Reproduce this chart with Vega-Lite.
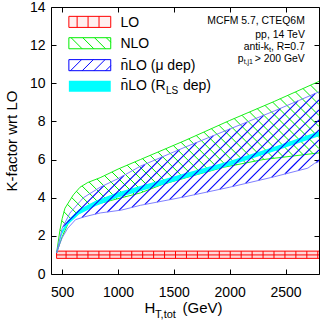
{
"$schema":"https://vega.github.io/schema/vega-lite/v6.json",
"width":268,"height":267,
"autosize":{"type":"none"},
"padding":{"left":51,"top":7,"right":1,"bottom":50},
"background":"white",
"config":{"font":"Liberation Sans","view":{"stroke":"#000","strokeWidth":1},
 "axis":{"grid":false,"domain":false,"labelFont":"Liberation Sans","labelFontSize":14,"labelColor":"#000","tickColor":"#000","tickSize":-5,"tickWidth":1,"titleFont":"Liberation Sans","titleFontSize":15,"titleFontWeight":"normal","titleColor":"#000","labelFlush":false,"labelOverlap":false}},
"datasets":{
 "lo":[{"x":450,"y":0.82,"y2":1.2},{"x":2800,"y":0.82,"y2":1.2}],
 "loLines":[{"s":"top","x":450,"y":1.2},{"s":"top","x":2800,"y":1.2},{"s":"mid","x":450,"y":1.0},{"s":"mid","x":2800,"y":1.0},{"s":"bot","x":450,"y":0.82},{"s":"bot","x":2800,"y":0.82}],
 "loTicks":[{"x":450,"y":0.82,"y2":1.2},{"x":535,"y":0.82,"y2":1.2},{"x":633,"y":0.82,"y2":1.2},{"x":731,"y":0.82,"y2":1.2},{"x":829,"y":0.82,"y2":1.2},{"x":927,"y":0.82,"y2":1.2},{"x":1025,"y":0.82,"y2":1.2},{"x":1123,"y":0.82,"y2":1.2},{"x":1221,"y":0.82,"y2":1.2},{"x":1319,"y":0.82,"y2":1.2},{"x":1417,"y":0.82,"y2":1.2},{"x":1515,"y":0.82,"y2":1.2},{"x":1613,"y":0.82,"y2":1.2},{"x":1711,"y":0.82,"y2":1.2},{"x":1809,"y":0.82,"y2":1.2},{"x":1907,"y":0.82,"y2":1.2},{"x":2005,"y":0.82,"y2":1.2},{"x":2103,"y":0.82,"y2":1.2},{"x":2201,"y":0.82,"y2":1.2},{"x":2299,"y":0.82,"y2":1.2},{"x":2397,"y":0.82,"y2":1.2},{"x":2495,"y":0.82,"y2":1.2},{"x":2593,"y":0.82,"y2":1.2},{"x":2691,"y":0.82,"y2":1.2},{"x":2789,"y":0.82,"y2":1.2}],
 "curves":[
  {"s":"nh","x":450,"y":1.1},{"s":"nh","x":480,"y":2.3},{"s":"nh","x":500,"y":2.9},{"s":"nh","x":525,"y":3.45},{"s":"nh","x":600,"y":4.15},{"s":"nh","x":660,"y":4.55},{"s":"nh","x":730,"y":4.8},{"s":"nh","x":840,"y":5.05},{"s":"nh","x":1000,"y":5.5},{"s":"nh","x":1200,"y":6.0},{"s":"nh","x":1600,"y":7.0},{"s":"nh","x":2000,"y":8.05},{"s":"nh","x":2400,"y":9.05},{"s":"nh","x":2800,"y":10.1},
  {"s":"nl","x":450,"y":1.1},{"s":"nl","x":500,"y":1.95},{"s":"nl","x":550,"y":2.6},{"s":"nl","x":673,"y":3.4},{"s":"nl","x":837,"y":3.7},{"s":"nl","x":1000,"y":3.95},{"s":"nl","x":1200,"y":4.25},{"s":"nl","x":1400,"y":4.7},{"s":"nl","x":1700,"y":5.2},{"s":"nl","x":1950,"y":5.6},{"s":"nl","x":2300,"y":6.0},{"s":"nl","x":2800,"y":6.35},
  {"s":"mh","x":450,"y":1.1},{"s":"mh","x":500,"y":2.4},{"s":"mh","x":570,"y":3.2},{"s":"mh","x":690,"y":4.0},{"s":"mh","x":840,"y":4.55},{"s":"mh","x":1000,"y":5.0},{"s":"mh","x":1200,"y":5.65},{"s":"mh","x":1600,"y":6.65},{"s":"mh","x":2000,"y":7.6},{"s":"mh","x":2400,"y":8.55},{"s":"mh","x":2800,"y":9.55},
  {"s":"ml","x":450,"y":1.1},{"s":"ml","x":480,"y":1.6},{"s":"ml","x":500,"y":1.9},{"s":"ml","x":550,"y":2.4},{"s":"ml","x":620,"y":2.85},{"s":"ml","x":700,"y":3.0},{"s":"ml","x":840,"y":3.2},{"s":"ml","x":1030,"y":3.35},{"s":"ml","x":1200,"y":3.6},{"s":"ml","x":1600,"y":4.05},{"s":"ml","x":2000,"y":4.55},{"s":"ml","x":2400,"y":5.1},{"s":"ml","x":2700,"y":5.55},{"s":"ml","x":2760,"y":5.8},{"s":"ml","x":2800,"y":5.9}
 ],
 "rls":[{"x":450,"y":1.08,"y2":1.12},{"x":480,"y":1.72,"y2":1.88},{"x":500,"y":2.1,"y2":2.3},{"x":550,"y":2.58,"y2":2.82},{"x":650,"y":3.12,"y2":3.38},{"x":800,"y":3.56,"y2":3.84},{"x":1000,"y":4.01,"y2":4.29},{"x":1300,"y":4.51,"y2":4.79},{"x":1600,"y":5.02,"y2":5.28},{"x":2000,"y":5.68,"y2":5.92},{"x":2400,"y":6.43,"y2":6.67},{"x":2800,"y":7.22,"y2":7.48}],
 "hatchG":[
  {"x":480.8,"y":2.315,"x2":513.4,"y2":2.124},{"x":496.7,"y":2.799,"x2":543.8,"y2":2.522},{"x":516.3,"y":3.26,"x2":587.4,"y2":2.843},{"x":547.1,"y":3.656,"x2":634.1,"y2":3.145},{"x":585.2,"y":4.009,"x2":685.4,"y2":3.421},{"x":627.9,"y":4.336,"x2":760.0,"y2":3.56},{"x":678.3,"y":4.616,"x2":834.6,"y2":3.698},{"x":741.3,"y":4.823,"x2":912.6,"y2":3.817},{"x":812.0,"y":4.985,"x2":990.8,"y2":3.934},{"x":880.0,"y":5.162,"x2":1069.0,"y2":4.052},{"x":946.3,"y":5.349,"x2":1147.3,"y2":4.169},{"x":1013.1,"y":5.534,"x2":1223.2,"y2":4.3},{"x":1082.1,"y":5.705,"x2":1294.2,"y2":4.46},{"x":1151.1,"y":5.877,"x2":1365.2,"y2":4.62},{"x":1220.0,"y":6.049,"x2":1438.9,"y2":4.763},{"x":1288.9,"y":6.221,"x2":1515.3,"y2":4.892},{"x":1357.8,"y":6.394,"x2":1591.7,"y2":5.02},{"x":1426.6,"y":6.566,"x2":1668.0,"y2":5.148},{"x":1495.4,"y":6.739,"x2":1744.9,"y2":5.274},{"x":1564.3,"y":6.911,"x2":1822.2,"y2":5.396},{"x":1632.7,"y":7.087,"x2":1899.5,"y2":5.52},{"x":1700.6,"y":7.264,"x2":1978.4,"y2":5.633},{"x":1768.5,"y":7.443,"x2":2060.7,"y2":5.726},{"x":1836.4,"y":7.62,"x2":2142.9,"y2":5.82},{"x":1904.3,"y":7.799,"x2":2225.2,"y2":5.914},{"x":1972.2,"y":7.976,"x2":2307.9,"y2":6.005},{"x":2040.7,"y":8.151,"x2":2395.7,"y2":6.066},{"x":2109.6,"y":8.324,"x2":2483.4,"y2":6.128},{"x":2178.4,"y":8.496,"x2":2571.2,"y2":6.189},{"x":2247.2,"y":8.669,"x2":2658.8,"y2":6.251},{"x":2316.1,"y":8.841,"x2":2746.6,"y2":6.313},{"x":2385.0,"y":9.013,"x2":2800,"y2":6.576},{"x":2453.1,"y":9.19,"x2":2800,"y2":7.153},{"x":2521.0,"y":9.368,"x2":2800,"y2":7.73},{"x":2588.9,"y":9.546,"x2":2800,"y2":8.306},{"x":2656.8,"y":9.724,"x2":2800,"y2":8.883},{"x":2724.7,"y":9.902,"x2":2800,"y2":9.46}
 ],
 "hatchB":[
  {"x":507.5,"y":2.488,"x2":875.9,"y2":4.651},{"x":676.3,"y":2.954,"x2":1054.0,"y2":5.173},{"x":796.6,"y":3.137,"x2":1242.1,"y2":5.753},{"x":905.3,"y":3.251,"x2":1397.7,"y2":6.143},{"x":1008.7,"y":3.334,"x2":1553.3,"y2":6.532},{"x":1124.7,"y":3.491,"x2":1704.9,"y2":6.898},{"x":1240.8,"y":3.648,"x2":1854.6,"y2":7.253},{"x":1351.0,"y":3.771,"x2":2004.5,"y2":7.609},{"x":1461.2,"y":3.894,"x2":2154.3,"y2":7.964},{"x":1571.3,"y":4.016,"x2":2304.1,"y2":8.32},{"x":1684.1,"y":4.154,"x2":2456.1,"y2":8.688},{"x":1797.8,"y":4.297,"x2":2611.7,"y2":9.078},{"x":1911.3,"y":4.44,"x2":2767.3,"y2":9.467},{"x":2025.6,"y":4.587,"x2":2800,"y2":9.135},{"x":2142.2,"y":4.747,"x2":2800,"y2":8.61},{"x":2258.9,"y":4.908,"x2":2800,"y2":8.086},{"x":2375.5,"y":5.069,"x2":2800,"y2":7.562},{"x":2494.5,"y":5.243,"x2":2800,"y2":7.037},{"x":2613.9,"y":5.42,"x2":2800,"y2":6.513},{"x":2773.8,"y":5.834,"x2":2800,"y2":5.988}
 ],
 "legBox":[{"k":"LO","x":560,"x2":935,"y":12.93,"y2":13.51},{"k":"NLO","x":560,"x2":935,"y":11.81,"y2":12.39},{"k":"MU","x":560,"x2":935,"y":10.66,"y2":11.24},{"k":"RLS","x":560,"x2":935,"y":9.55,"y2":10.13}],
 "legHatch":[
  {"k":"LO","x":634,"y":12.93,"x2":634,"y2":13.51},{"k":"LO","x":732,"y":12.93,"x2":732,"y2":13.51},{"k":"LO","x":830,"y":12.93,"x2":830,"y2":13.51},
  {"k":"NLO","x":580,"y":12.39,"x2":678.8,"y2":11.81},{"k":"NLO","x":685,"y":12.39,"x2":783.8,"y2":11.81},{"k":"NLO","x":790,"y":12.39,"x2":888.8,"y2":11.81},{"k":"NLO","x":895,"y":12.39,"x2":935,"y2":12.155},
  {"k":"MU","x":575,"y":10.66,"x2":673.8,"y2":11.24},{"k":"MU","x":680,"y":10.66,"x2":778.8,"y2":11.24},{"k":"MU","x":785,"y":10.66,"x2":883.8,"y2":11.24},{"k":"MU","x":890,"y":10.66,"x2":935,"y2":10.924}
 ],
 "texts":[
  {"st":"leg","x":1021.5,"y":12.95,"t":"LO"},{"st":"leg","x":1021.5,"y":11.85,"t":"NLO"},{"st":"leg","x":1021.5,"y":10.68,"t":"n̄LO (μ dep)"},{"st":"leg","x":1021.5,"y":9.63,"t":"n̄LO (R"},{"st":"leg","x":1581.3,"y":9.63,"t":"dep)"},
  {"st":"legsub","x":1430.4,"y":9.42,"t":"LS"},
  {"st":"nr","x":2673,"y":13.13,"t":"MCFM 5.7, CTEQ6M"},{"st":"nr","x":2673,"y":12.39,"t":"pp, 14 TeV"},{"st":"nr","x":2673,"y":11.76,"t":", R=0.7"},{"st":"nr","x":2352.7,"y":11.76,"t":"anti-k"},{"st":"nr","x":2673,"y":11.12,"t":"> 200 GeV"},
  {"st":"nsr","x":2371.4,"y":11.63,"t":"t"},
  {"st":"nl","x":2073.2,"y":11.12,"t":"p"},
  {"st":"nsl","x":2125.0,"y":10.99,"t":"t,j1"},
  {"st":"ax","x":1238.4,"y":-2.045,"t":"H"},{"st":"ax","x":1577.7,"y":-2.045,"t":"(GeV)"},
  {"st":"axsub","x":1332.1,"y":-2.29,"t":"T,tot"}
 ]
},
"encoding":{
 "x":{"field":"x","type":"quantitative","scale":{"domain":[400,2800],"nice":false,"zero":false},"axis":null},
 "y":{"field":"y","type":"quantitative","scale":{"domain":[0,14],"nice":false,"zero":false},"axis":null}
},
"layer":[
 {"data":{"name":"lo"},"mark":{"type":"area","fill":"#ffd0d0","opacity":0.8},
  "encoding":{
   "x":{"field":"x","type":"quantitative","scale":{"domain":[400,2800],"nice":false,"zero":false},"axis":{"orient":"bottom","values":[500,1000,1500,2000,2500],"format":"d","title":null,"labelPadding":16}},
   "y":{"field":"y","type":"quantitative","scale":{"domain":[0,14],"nice":false,"zero":false},"axis":{"orient":"left","values":[0,2,4,6,8,10,12,14],"format":"d","title":"K-factor wrt LO","labelPadding":11,"titlePadding":10}},
   "y2":{"field":"y2"}}},
 {"data":{"name":"loLines"},"mark":{"type":"line","color":"#ff0000","strokeWidth":1},
  "encoding":{
   "x":{"field":"x","type":"quantitative","scale":{"domain":[400,2800],"nice":false,"zero":false},"axis":{"orient":"top","values":[500,1000,1500,2000,2500],"title":null,"labels":false}},
   "y":{"field":"y","type":"quantitative","scale":{"domain":[0,14],"nice":false,"zero":false},"axis":{"orient":"right","values":[0,2,4,6,8,10,12,14],"title":null,"labels":false}},
   "detail":{"field":"s"}}},
 {"data":{"name":"loTicks"},"mark":{"type":"rule","color":"#ff0000","strokeWidth":1},
  "encoding":{"y2":{"field":"y2"}}},
 {"data":{"name":"hatchG"},"mark":{"type":"rule","color":"#00ee00","strokeWidth":1},
  "encoding":{"x2":{"field":"x2"},"y2":{"field":"y2"}}},
 {"data":{"name":"curves"},"transform":[{"filter":{"field":"s","oneOf":["nh","nl"]}}],"mark":{"type":"line","color":"#00ee00","strokeWidth":0.9},
  "encoding":{"detail":{"field":"s"}}},
 {"data":{"name":"rls"},"mark":{"type":"area","fill":"#00ffff","opacity":1},
  "encoding":{"y2":{"field":"y2"}}},
 {"data":{"name":"hatchB"},"mark":{"type":"rule","color":"#0000ff","strokeWidth":1.1},
  "encoding":{"x2":{"field":"x2"},"y2":{"field":"y2"}}},
 {"data":{"name":"curves"},"transform":[{"filter":{"field":"s","oneOf":["mh","ml"]}}],"mark":{"type":"line","color":"#7070ff","strokeWidth":0.9},
  "encoding":{"detail":{"field":"s"}}},
 {"data":{"name":"legBox"},"transform":[{"filter":{"field":"k","equal":"LO"}}],"mark":{"type":"rect","fill":"#fff0f0","stroke":"#ff0000","strokeWidth":1},
  "encoding":{"x2":{"field":"x2"},"y2":{"field":"y2"}}},
 {"data":{"name":"legBox"},"transform":[{"filter":{"field":"k","equal":"NLO"}}],"mark":{"type":"rect","fill":"#ffffff","stroke":"#00ee00","strokeWidth":1},
  "encoding":{"x2":{"field":"x2"},"y2":{"field":"y2"}}},
 {"data":{"name":"legBox"},"transform":[{"filter":{"field":"k","equal":"MU"}}],"mark":{"type":"rect","fill":"#ffffff","stroke":"#0000ff","strokeWidth":1},
  "encoding":{"x2":{"field":"x2"},"y2":{"field":"y2"}}},
 {"data":{"name":"legBox"},"transform":[{"filter":{"field":"k","equal":"RLS"}}],"mark":{"type":"rect","fill":"#00ffff"},
  "encoding":{"x2":{"field":"x2"},"y2":{"field":"y2"}}},
 {"data":{"name":"legHatch"},"mark":{"type":"rule","strokeWidth":1},
  "encoding":{"x2":{"field":"x2"},"y2":{"field":"y2"},"color":{"field":"k","type":"nominal","scale":{"domain":["LO","NLO","MU"],"range":["#ff0000","#00ee00","#0000ff"]},"legend":null}}},
 {"data":{"name":"texts"},"transform":[{"filter":{"field":"st","equal":"leg"}}],"mark":{"type":"text","align":"left","baseline":"alphabetic","fontSize":14,"color":"#000"},
  "encoding":{"text":{"field":"t"}}},
 {"data":{"name":"texts"},"transform":[{"filter":{"field":"st","equal":"legsub"}}],"mark":{"type":"text","align":"left","baseline":"alphabetic","fontSize":10,"color":"#000"},
  "encoding":{"text":{"field":"t"}}},
 {"data":{"name":"texts"},"transform":[{"filter":{"field":"st","equal":"nr"}}],"mark":{"type":"text","align":"right","baseline":"alphabetic","fontSize":10.4,"color":"#000"},
  "encoding":{"text":{"field":"t"}}},
 {"data":{"name":"texts"},"transform":[{"filter":{"field":"st","equal":"nsr"}}],"mark":{"type":"text","align":"right","baseline":"alphabetic","fontSize":7.5,"color":"#000"},
  "encoding":{"text":{"field":"t"}}},
 {"data":{"name":"texts"},"transform":[{"filter":{"field":"st","equal":"nl"}}],"mark":{"type":"text","align":"left","baseline":"alphabetic","fontSize":10.4,"color":"#000"},
  "encoding":{"text":{"field":"t"}}},
 {"data":{"name":"texts"},"transform":[{"filter":{"field":"st","equal":"nsl"}}],"mark":{"type":"text","align":"left","baseline":"alphabetic","fontSize":7,"color":"#000"},
  "encoding":{"text":{"field":"t"}}},
 {"data":{"name":"texts"},"transform":[{"filter":{"field":"st","equal":"ax"}}],"mark":{"type":"text","align":"left","baseline":"alphabetic","fontSize":15,"color":"#000"},
  "encoding":{"text":{"field":"t"}}},
 {"data":{"name":"texts"},"transform":[{"filter":{"field":"st","equal":"axsub"}}],"mark":{"type":"text","align":"left","baseline":"alphabetic","fontSize":11,"color":"#000"},
  "encoding":{"text":{"field":"t"}}}
],
"resolve":{"axis":{"x":"independent","y":"independent"}}
}
